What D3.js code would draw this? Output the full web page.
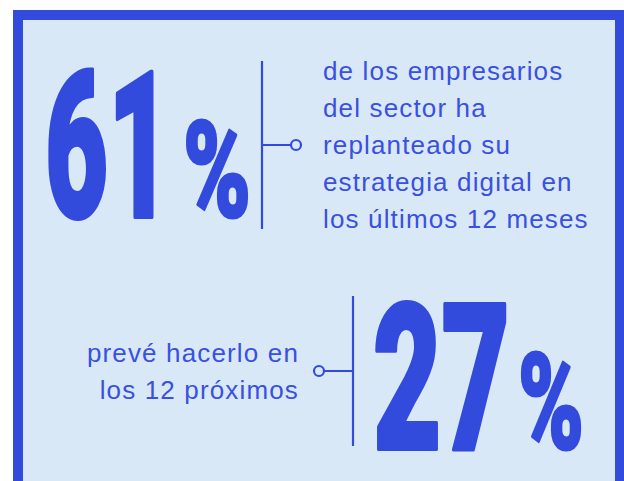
<!DOCTYPE html>
<html>
<head>
<meta charset="utf-8">
<script src="https://cdn.jsdelivr.net/npm/d3@7"></script>
<style>
  html, body { margin: 0; padding: 0; background: #ffffff; }
  svg { display: block; }
</style>
</head>
<body>
<svg id="chart" width="624" height="481"></svg>
<script>
// ---- data ----
const statValues = [61, 27];
const statLabels = [
  ["de los empresarios", "del sector ha", "replanteado su", "estrategia digital en", "los últimos 12 meses"],
  ["prevé hacerlo en", "los 12 próximos"]
];
const statSides = ["right", "left"]; // side of the description relative to the number

// ---- styles ----
const BLUE = "#324bdd";
const TEXT = "#3a50e0";
const BG = "#d8e8f7";

const svg = d3.select("#chart");

// frame
svg.append("rect")
  .attr("x", 13).attr("y", 10).attr("width", 630).attr("height", 500)
  .attr("fill", BLUE);
svg.append("rect")
  .attr("x", 23).attr("y", 20).attr("width", 592).attr("height", 480)
  .attr("fill", BG);

const bigFont = "Roboto, 'Liberation Sans', sans-serif";
const bodyFont = "'Liberation Sans', Arial, sans-serif";

// layout of each block
const layout = [
  { numX: 45, base: 217, numLen: 126, pctX: 183, pctLen: 68,
    lineX: 262, lineY0: 61, lineY1: 229, dotX: 296, dotY: 145,
    textX: 323, textY0: 80, anchor: "start" },
  { numX: 373, base: 449, numLen: 137, pctX: 518, pctLen: 66,
    lineX: 353, lineY0: 296, lineY1: 446, dotX: 319, dotY: 371,
    textX: 299, textY0: 362, anchor: "end" }
];

const blocks = svg.selectAll("g.stat")
  .data(statValues.map((v, i) => ({ value: v, label: statLabels[i], side: statSides[i], L: layout[i] })))
  .join("g").attr("class", "stat");

// big number
blocks.append("text")
  .attr("x", d => d.L.numX).attr("y", d => d.L.base)
  .attr("font-family", bigFont).attr("font-weight", 900)
  .attr("font-size", 204)
  .attr("textLength", d => d.L.numLen).attr("lengthAdjust", "spacingAndGlyphs")
  .attr("fill", BLUE).attr("stroke", BLUE).attr("stroke-width", 4).attr("stroke-linejoin", "round")
  .text(d => d3.format("d")(d.value));

// percent sign
blocks.append("text")
  .attr("x", d => d.L.pctX).attr("y", d => d.L.base)
  .attr("font-family", bigFont).attr("font-weight", 900)
  .attr("font-size", 134)
  .attr("textLength", d => d.L.pctLen).attr("lengthAdjust", "spacingAndGlyphs")
  .attr("fill", BLUE).attr("stroke", BLUE).attr("stroke-width", 3).attr("stroke-linejoin", "round")
  .text("%");

// vertical connector line
blocks.append("line")
  .attr("x1", d => d.L.lineX).attr("x2", d => d.L.lineX)
  .attr("y1", d => d.L.lineY0).attr("y2", d => d.L.lineY1)
  .attr("stroke", BLUE).attr("stroke-width", 2.2);

// horizontal connector
blocks.append("line")
  .attr("x1", d => d.L.lineX)
  .attr("x2", d => d.L.dotX)
  .attr("y1", d => d.L.dotY).attr("y2", d => d.L.dotY)
  .attr("stroke", BLUE).attr("stroke-width", 2.2);

// dot
blocks.append("circle")
  .attr("cx", d => d.L.dotX).attr("cy", d => d.L.dotY).attr("r", 5)
  .attr("fill", BG).attr("stroke", BLUE).attr("stroke-width", 2.2);

// description text
blocks.append("text")
  .attr("font-family", bodyFont).attr("font-size", 26)
  .attr("letter-spacing", 1.15)
  .attr("fill", TEXT)
  .attr("text-anchor", d => d.L.anchor)
  .each(function (d) {
    d3.select(this).selectAll("tspan")
      .data(d.label)
      .join("tspan")
      .attr("x", d.L.textX)
      .attr("y", (t, i) => d.L.textY0 + i * 37)
      .text(t => t);
  });
</script>
</body>
</html>
